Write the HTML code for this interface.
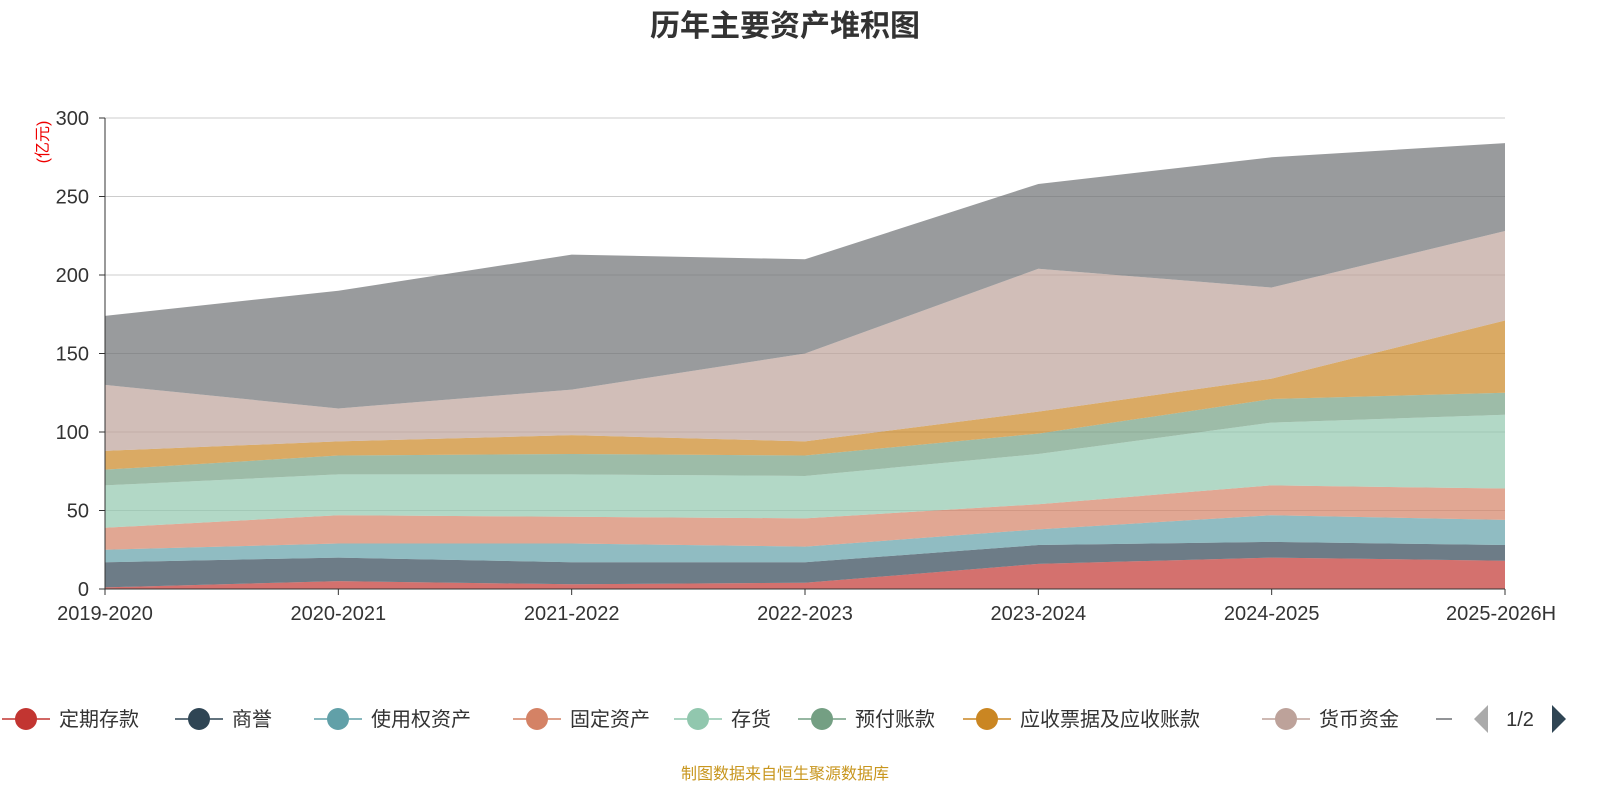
<!DOCTYPE html>
<html><head><meta charset="utf-8">
<style>
body{margin:0;background:#fff;width:1600px;height:800px;overflow:hidden;font-family:"Liberation Sans","Noto Sans CJK SC",sans-serif;}
</style></head><body>
<svg id="chart" width="1600" height="800" xmlns="http://www.w3.org/2000/svg" font-family="Liberation Sans, Noto Sans CJK SC, sans-serif">
<text x="785" y="36" text-anchor="middle" font-size="30" font-weight="bold" fill="#333">历年主要资产堆积图</text>
<text transform="translate(48,142) rotate(-90)" text-anchor="middle" font-size="16" fill="#e00">(亿元)</text>
<g id="grid"></g><g id="areas"></g><g id="axes"></g><g id="legend"></g>
<text x="785" y="779" text-anchor="middle" font-size="16" fill="#c8961e">制图数据来自恒生聚源数据库</text>
</svg>
<script>
const categories=["2019-2020","2020-2021","2021-2022","2022-2023","2023-2024","2024-2025","2025-2026H"];
const seriesNames=["定期存款","商誉","使用权资产","固定资产","存货","预付账款","应收票据及应收账款","货币资金","其他"];
const s0=[1,5,3,4,16,20,18];
const s1=[16,15,14,13,12,10,10];
const s2=[8,9,12,10,10,17,16];
const s3=[14,18,17,18,16,19,20];
const s4=[27,26,27,27,32,40,47];
const s5=[10,12,13,13,13,15,14];
const s6=[12,9,12,9,14,13,46];
const s7=[42,21,29,56,91,58,57];
const s8=[44,75,86,60,54,83,56];
const yTicks=[0,50,100,150,200,250,300];
const series=[s0,s1,s2,s3,s4,s5,s6,s7,s8];
const colors=["#c23531","#2f4554","#61a0a8","#d48265","#91c7ae","#749f83","#ca8622","#bda29a","#6e7074"];
const ns="http://www.w3.org/2000/svg";
const X0=105,X1=1505,Y0=589,Y1=118;
const x=i=>X0+i*(X1-X0)/(categories.length-1);
const y=v=>Y0-v*(Y0-Y1)/300;
function mk(t,a,p){const e=document.createElementNS(ns,t);for(const k in a)e.setAttribute(k,a[k]);p.appendChild(e);return e;}
const grid=document.getElementById('grid'),areas=document.getElementById('areas'),axes=document.getElementById('axes'),lg=document.getElementById('legend');
yTicks.forEach(v=>{
 if(v>0){const l=mk('line',{x1:X0,x2:X1,y1:y(v),y2:y(v),stroke:'#ccc'},grid);
 
 }
 const t=mk('text',{x:X0-16,y:y(v)+7,'text-anchor':'end','font-size':20,fill:'#333'},axes);t.textContent=v;
 
 
 mk('line',{x1:X0-6,x2:X0,y1:y(v),y2:y(v),stroke:'#333'},axes);
});
let base=categories.map(()=>0);
series.forEach((s,k)=>{
 const top=base.map((b,i)=>b+s[i]);
 let d='M'+top.map((v,i)=>x(i)+','+y(v)).join('L');
 for(let i=categories.length-1;i>=0;i--)d+='L'+x(i)+','+y(base[i]);
 d+='Z';
 const p=mk('path',{d:d,fill:colors[k],'fill-opacity':0.7},areas);
 
 
 base=top;
});
mk('line',{x1:X0,x2:X0,y1:Y1,y2:Y0,stroke:'#333'},axes);
mk('line',{x1:X0,x2:X1,y1:Y0,y2:Y0,stroke:'#333'},axes);
categories.forEach((c,i)=>{
 mk('line',{x1:x(i),x2:x(i),y1:Y0,y2:Y0+6,stroke:'#333'},axes);
 const t=mk('text',{x:x(i)+(i==categories.length-1?-4:0),y:Y0+31,'text-anchor':'middle','font-size':20,fill:'#333'},axes);t.textContent=c;
 
 
});
const lx=[26,199,338,537,698,822,987,1286];
for(let k=0;k<8;k++){
 const g=mk('g',{},lg);
 
 
 mk('line',{x1:lx[k]-24,x2:lx[k]+24,y1:719,y2:719,stroke:colors[k],'stroke-width':1.5},g);
 mk('circle',{cx:lx[k],cy:719,r:11,fill:colors[k]},g);
 const t=mk('text',{x:lx[k]+33,y:726,'font-size':20,fill:'#333'},g);t.textContent=seriesNames[k];
}
mk('line',{x1:1436,x2:1452,y1:719,y2:719,stroke:'#6e7074','stroke-width':1.5},lg);
const pp=mk('polygon',{points:'1474,719 1488,705 1488,733',fill:'#aaa'},lg);


const pt=mk('text',{x:1520,y:726,'text-anchor':'middle','font-size':20,fill:'#333'},lg);pt.textContent='1/2';


const np=mk('polygon',{points:'1566,719 1552,705 1552,733',fill:'#2f4554'},lg);


</script>
</body></html>
